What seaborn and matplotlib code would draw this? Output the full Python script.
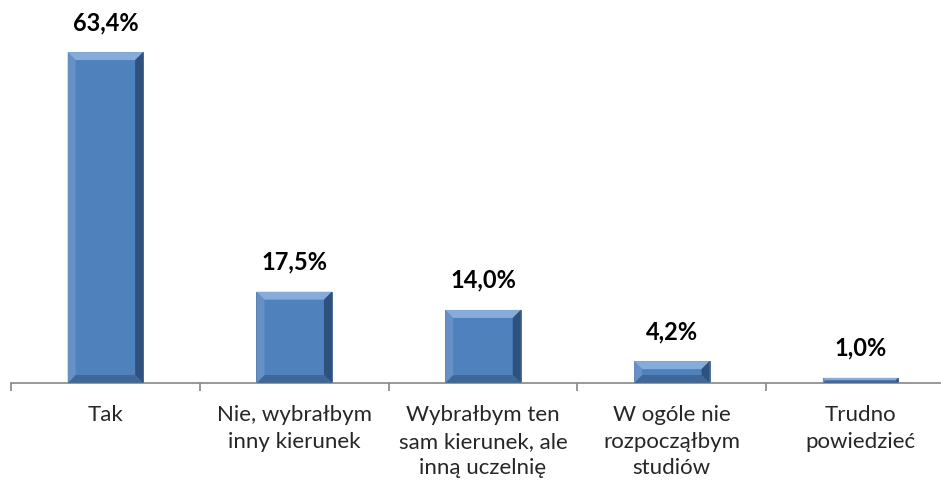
import matplotlib

matplotlib.use("Agg", force=True)

import matplotlib.pyplot as plt
import numpy as np
import pandas as pd
import seaborn as sns
from matplotlib.patches import Polygon

categories = [
    "Tak",
    "Nie, wybrałbym\ninny kierunek",
    "Wybrałbym ten\nsam kierunek, ale\ninną uczelnię",
    "W ogóle nie\nrozpocząłbym\nstudiów",
    "Trudno\npowiedzieć",
]
values = [63.4, 17.5, 14.0, 4.2, 1.0]
value_labels = ["63,4%", "17,5%", "14,0%", "4,2%", "1,0%"]

sns.set_style("white")
plt.rcParams["font.family"] = ["Lato", "DejaVu Sans"]

df = pd.DataFrame({"cat": categories, "val": values})

fig = plt.figure(figsize=(9.41, 4.87), dpi=100)
ax = fig.add_axes([11 / 941, 1 - 383 / 487, 944 / 941, 383 / 487])

sns.barplot(data=df, x="cat", y="val", color="#4F81BD", width=0.4,
            saturation=1, ax=ax, edgecolor="#3A6596", linewidth=0.6)

ax.set_ylim(0, 383 / 5.22)
ax.set_xlim(-0.5, len(categories) - 0.5)

# bevel shading derived from each bar's own extents
fig.canvas.draw()
inv = ax.transData.inverted()
shades = {"top": "#95B8E3", "right": "#27466D", "bottom": "#3B6291", "left": "#6C95C9"}
for p in ax.patches:
    x0, y0 = p.get_x(), p.get_y()
    x1, y1 = x0 + p.get_width(), y0 + p.get_height()
    (px0, py0), (px1, py1) = ax.transData.transform([(x0, y0), (x1, y1)])
    b = min(8, (py1 - py0) / 2, (px1 - px0) / 4)
    pts_disp = {
        "top": [(px0, py1), (px1, py1), (px1 - b, py1 - b), (px0 + b, py1 - b)],
        "right": [(px1, py1), (px1, py0), (px1 - b, py0 + b), (px1 - b, py1 - b)],
        "bottom": [(px0, py0), (px1, py0), (px1 - b, py0 + b), (px0 + b, py0 + b)],
        "left": [(px0, py0), (px0, py1), (px0 + b, py1 - b), (px0 + b, py0 + b)],
    }
    for k, pts in pts_disp.items():
        ax.add_patch(Polygon(inv.transform(pts), closed=True, facecolor=shades[k],
                             edgecolor="none", alpha=0.8, zorder=3))

for i, (v, lab) in enumerate(zip(values, value_labels)):
    ax.annotate(lab, (i, v), xytext=(0, 13), textcoords="offset points",
                ha="center", va="bottom", fontsize=17, fontweight="bold", color="black")

for s in ["top", "right", "left"]:
    ax.spines[s].set_visible(False)
ax.spines["bottom"].set_color("#868686")
ax.spines["bottom"].set_linewidth(1.2)
ax.set_yticks([])
ax.set_xticks(np.arange(len(categories) + 1) - 0.5, minor=True)
ax.tick_params(axis="x", which="minor", length=6, color="#868686", width=1.2, bottom=True)
ax.tick_params(axis="x", which="major", length=0, pad=16, labelsize=16)
ax.set_xlabel("")
ax.set_ylabel("")
for t in ax.get_xticklabels():
    t.set_linespacing(1.4)
    t.set_verticalalignment("top")

fig.savefig("out.png", dpi=100)
